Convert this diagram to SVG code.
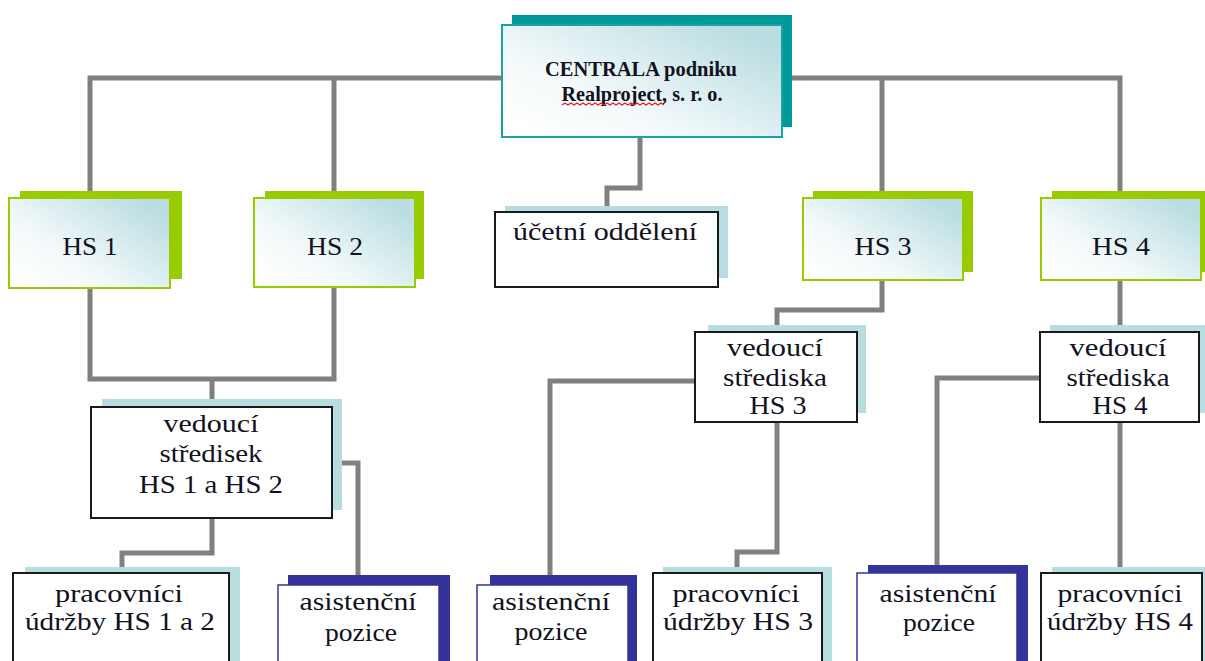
<svg xmlns="http://www.w3.org/2000/svg" width="1205" height="661" viewBox="0 0 1205 661">
<defs>
<linearGradient id="gfill" x1="0" y1="0.85" x2="0.9" y2="0.1">
<stop offset="0" stop-color="#ffffff"/>
<stop offset="0.35" stop-color="#f3f9fa"/>
<stop offset="1" stop-color="#b9dde1"/>
</linearGradient>
<style>
.conn{fill:none;stroke:#808080;stroke-width:5;stroke-linejoin:miter}
.sh-teal{fill:#009999}
.sh-green{fill:#99cc00}
.sh-blue{fill:#b7dde1}
.sh-navy{fill:#333399}
.m-teal{fill:url(#gfill);stroke:#1aa3a3;stroke-width:2}
.m-green{fill:url(#gfill);stroke:#99cc00;stroke-width:2}
.m-black{fill:#ffffff;stroke:#1a1a1a;stroke-width:2}
.m-navy{fill:#ffffff;stroke:#333399;stroke-width:1.5}
text{font-family:"Liberation Serif","Times New Roman",serif;fill:#111122;text-anchor:middle}
.big{font-size:26px}
.hs{font-size:26px}
.bold{font-size:20px;font-weight:bold}
</style>
</defs>
<g id="connectors">
<path class="conn" d="M90,198 V78 H1120 V198"/>
<path class="conn" d="M334,78 V198"/>
<path class="conn" d="M882,78 V198"/>
<path class="conn" d="M640,137 V188 H607 V206"/>
<path class="conn" d="M90,288 V379 H334 V287"/>
<path class="conn" d="M212,379 V407"/>
<path class="conn" d="M342,463 H358 V575"/>
<path class="conn" d="M212,518 V553 H122 V567"/>
<path class="conn" d="M882,280 V310 H777 V325"/>
<path class="conn" d="M695,381 H550 V575"/>
<path class="conn" d="M777,422 V552 H737 V567"/>
<path class="conn" d="M1120,280 V567"/>
<path class="conn" d="M1040,378 H937 V565"/>
</g>
<g id="centrala">
<rect class="sh-teal" x="512" y="15" width="280" height="112"/>
<rect class="m-teal" x="502" y="25" width="280" height="112"/>
<text class="bold" x="641" y="76" textLength="192" lengthAdjust="spacingAndGlyphs">CENTRALA podniku</text>
<text class="bold" x="642" y="101" textLength="161" lengthAdjust="spacingAndGlyphs">Realproject, s. r. o.</text>
<path d="M562,105 l3,-2 l3,2 l3,-2 l3,2 l3,-2 l3,2 l3,-2 l3,2 l3,-2 l3,2 l3,-2 l3,2 l3,-2 l3,2 l3,-2 l3,2 l3,-2 l3,2 l3,-2 l3,2 l3,-2 l3,2 l3,-2 l3,2 l3,-2 l3,2 l3,-2 l3,2 l3,-2 l3,2 l3,-2 l3,2 l3,-2 l3,2" fill="none" stroke="#e02020" stroke-width="1.2"/>
</g>
<g id="hs1">
<rect class="sh-green" x="20" y="191" width="162" height="88"/>
<rect class="m-green" x="9" y="198" width="161" height="90"/>
<text class="hs" x="90" y="255" textLength="55" lengthAdjust="spacingAndGlyphs">HS 1</text>
</g>
<g id="hs2">
<rect class="sh-green" x="265" y="191" width="159" height="88"/>
<rect class="m-green" x="254" y="198" width="161" height="89"/>
<text class="hs" x="335" y="255" textLength="56" lengthAdjust="spacingAndGlyphs">HS 2</text>
</g>
<g id="ucetni">
<rect class="sh-blue" x="505" y="206" width="223" height="72"/>
<rect class="m-black" x="495" y="212" width="223" height="75"/>
<text class="big" x="605" y="240" textLength="184" lengthAdjust="spacingAndGlyphs">účetní oddělení</text>
</g>
<g id="hs3">
<rect class="sh-green" x="813" y="191" width="160" height="81"/>
<rect class="m-green" x="803" y="198" width="160" height="82"/>
<text class="hs" x="883" y="255" textLength="57" lengthAdjust="spacingAndGlyphs">HS 3</text>
</g>
<g id="hs4">
<rect class="sh-green" x="1052" y="191" width="160" height="81"/>
<rect class="m-green" x="1041" y="198" width="160" height="82"/>
<text class="hs" x="1121" y="255" textLength="58" lengthAdjust="spacingAndGlyphs">HS 4</text>
</g>
<g id="vedouci12">
<rect class="sh-blue" x="102" y="399" width="240" height="111"/>
<rect class="m-black" x="91" y="407" width="241" height="111"/>
<text class="big" x="211" y="432" textLength="95" lengthAdjust="spacingAndGlyphs">vedoucí</text>
<text class="big" x="211" y="462" textLength="103" lengthAdjust="spacingAndGlyphs">středisek</text>
<text class="big" x="211" y="493" textLength="144" lengthAdjust="spacingAndGlyphs">HS 1 a HS 2</text>
</g>
<g id="vedouci3">
<rect class="sh-blue" x="708" y="325" width="158" height="88"/>
<rect class="m-black" x="695" y="332" width="162" height="90"/>
<text class="big" x="775" y="356" textLength="96" lengthAdjust="spacingAndGlyphs">vedoucí</text>
<text class="big" x="775" y="386" textLength="104" lengthAdjust="spacingAndGlyphs">střediska</text>
<text class="big" x="778" y="414" textLength="57" lengthAdjust="spacingAndGlyphs">HS 3</text>
</g>
<g id="vedouci4">
<rect class="sh-blue" x="1050" y="325" width="160" height="88"/>
<rect class="m-black" x="1040" y="332" width="159" height="90"/>
<text class="big" x="1118" y="356" textLength="97" lengthAdjust="spacingAndGlyphs">vedoucí</text>
<text class="big" x="1118" y="386" textLength="103" lengthAdjust="spacingAndGlyphs">střediska</text>
<text class="big" x="1120" y="414" textLength="55" lengthAdjust="spacingAndGlyphs">HS 4</text>
</g>
<g id="pracovnici12">
<rect class="sh-blue" x="25" y="567" width="215" height="100"/>
<rect class="m-black" x="13" y="573" width="216" height="100"/>
<text class="big" x="119" y="602" textLength="128" lengthAdjust="spacingAndGlyphs">pracovníci</text>
<text class="big" x="120" y="630" textLength="190" lengthAdjust="spacingAndGlyphs">údržby HS 1 a 2</text>
</g>
<g id="asistencni1">
<rect class="sh-navy" x="288" y="575" width="162" height="90"/>
<rect class="m-navy" x="278" y="585" width="161" height="90"/>
<text class="big" x="358" y="610" textLength="117" lengthAdjust="spacingAndGlyphs">asistenční</text>
<text class="big" x="361" y="641" textLength="72" lengthAdjust="spacingAndGlyphs">pozice</text>
</g>
<g id="asistencni2">
<rect class="sh-navy" x="490" y="575" width="147" height="90"/>
<rect class="m-navy" x="477" y="585" width="151" height="90"/>
<text class="big" x="551" y="610" textLength="118" lengthAdjust="spacingAndGlyphs">asistenční</text>
<text class="big" x="551" y="640" textLength="73" lengthAdjust="spacingAndGlyphs">pozice</text>
</g>
<g id="pracovnici3">
<rect class="sh-blue" x="663" y="567" width="169" height="100"/>
<rect class="m-black" x="653" y="573" width="169" height="100"/>
<text class="big" x="736" y="602" textLength="127" lengthAdjust="spacingAndGlyphs">pracovníci</text>
<text class="big" x="738" y="630" textLength="150" lengthAdjust="spacingAndGlyphs">údržby HS 3</text>
</g>
<g id="asistencni3">
<rect class="sh-navy" x="868" y="565" width="160" height="100"/>
<rect class="m-navy" x="857" y="573" width="160" height="100"/>
<text class="big" x="938" y="602" textLength="117" lengthAdjust="spacingAndGlyphs">asistenční</text>
<text class="big" x="939" y="631" textLength="72" lengthAdjust="spacingAndGlyphs">pozice</text>
</g>
<g id="pracovnici4">
<rect class="sh-blue" x="1052" y="567" width="160" height="100"/>
<rect class="m-black" x="1041" y="573" width="161" height="100"/>
<text class="big" x="1120" y="602" textLength="125" lengthAdjust="spacingAndGlyphs">pracovníci</text>
<text class="big" x="1120" y="630" textLength="146" lengthAdjust="spacingAndGlyphs">údržby HS 4</text>
</g>
</svg>
